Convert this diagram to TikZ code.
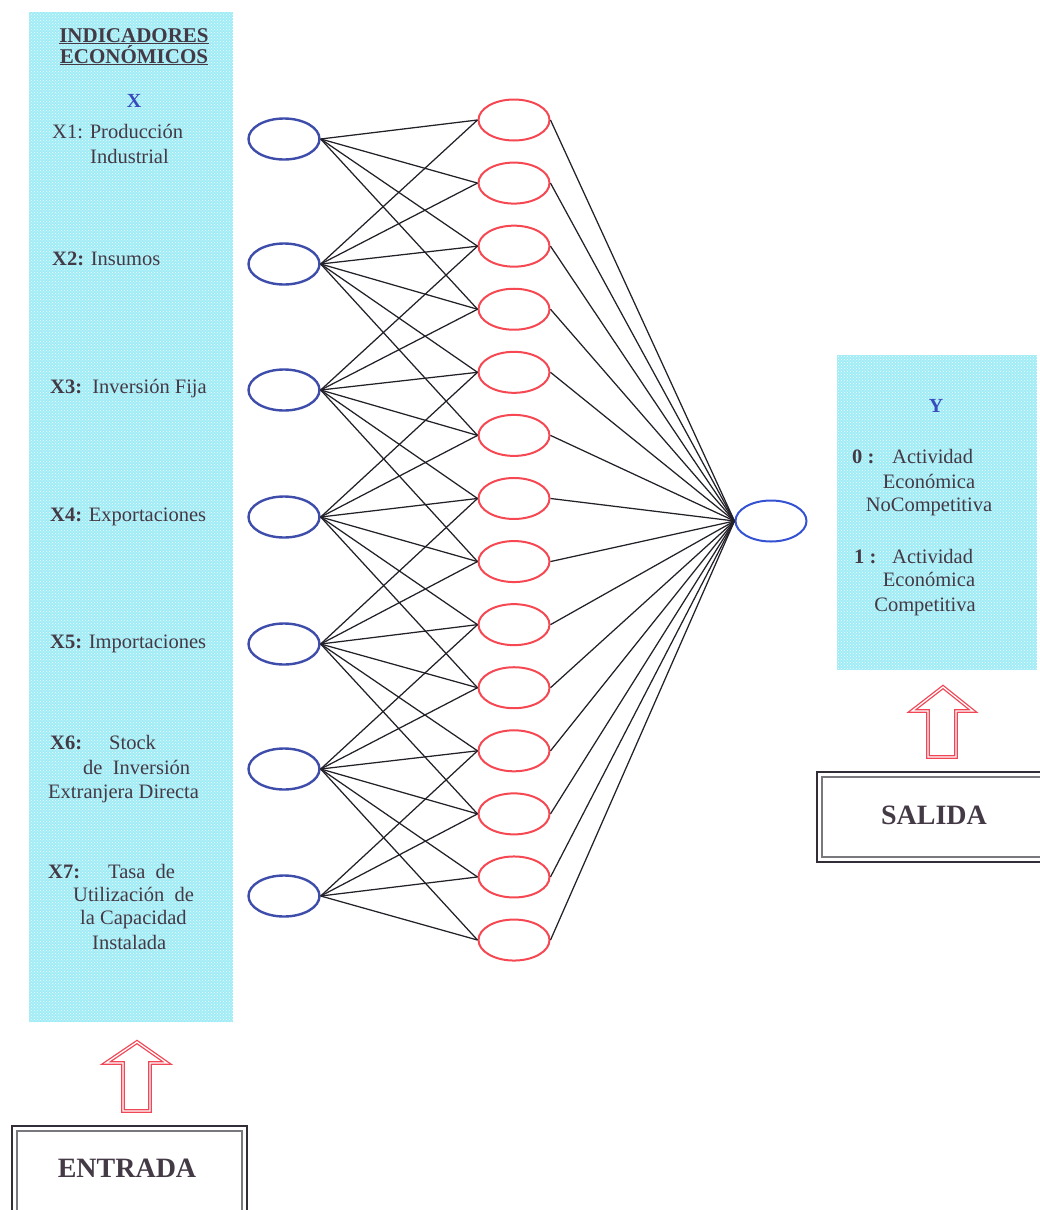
\documentclass[tikz,border=0pt]{standalone}
\usepackage{fontspec}
\setmainfont{Liberation Serif}
\usetikzlibrary{shapes.geometric,patterns}
\definecolor{panelfill}{RGB}{160,236,246}
\definecolor{textgray}{RGB}{68,58,70}
\definecolor{inblue}{RGB}{62,76,170}
\definecolor{outblue}{RGB}{52,82,210}
\definecolor{hidred}{RGB}{245,72,82}
\definecolor{arrowred}{RGB}{240,70,85}
\definecolor{wirecol}{RGB}{35,32,40}
\definecolor{boxdark}{RGB}{50,45,55}
\definecolor{boxgray}{RGB}{120,120,125}
\definecolor{lblblue}{RGB}{55,75,190}
\begin{document}
\begin{tikzpicture}[x=1pt,y=-1pt,
  panel/.style={fill=panelfill, postaction={pattern=crosshatch dots, pattern color=white!85!panelfill}},
  txt/.style={font=\fontsize{20.5}{24}\selectfont, text=textgray, inner sep=0pt, anchor=base west},
  ctxt/.style={txt, anchor=base},
  inode/.style={ellipse, draw=inblue, line width=2.4pt, minimum width=71pt, minimum height=41pt, inner sep=0pt},
  hnode/.style={ellipse, draw=hidred, line width=2pt, minimum width=71pt, minimum height=41pt, inner sep=0pt},
  onode/.style={ellipse, draw=outblue, line width=2pt, minimum width=71pt, minimum height=41pt, inner sep=0pt},
  wire/.style={draw=wirecol, line width=1.25pt},
  blockarrow/.style={draw=arrowred, double=white, double distance=1.3pt, line width=1.3pt, line join=miter},
  boxtxt/.style={font=\fontsize{28}{32}\selectfont\bfseries, text=textgray, inner sep=0pt}]
\useasboundingbox (0,0) rectangle (1040,1210);
\clip (0,0) rectangle (1040,1210);

% shaded panels
\path[panel] (29,12) rectangle (233,1022);
\path[panel] (837,355) rectangle (1037,670);

% left panel: economic indicators
\node[ctxt, font=\fontsize{21}{24}\selectfont\bfseries] (t1) at (134,42) {\underline{INDICADORES}};
\node[ctxt, font=\fontsize{21}{24}\selectfont\bfseries] (t2) at (134,63) {\underline{ECONÓMICOS}};
\node[ctxt, text=lblblue, font=\fontsize{20}{24}\selectfont\bfseries] (tx) at (134,107) {X};
\node[txt] (x1a) at (52,138) {X1: Producción};
\node[txt] (x1b) at (90,163) {Industrial};
\node[txt] (x2) at (52,265) {\textbf{X2:} Insumos};
\node[txt] (x3) at (50,393) {\textbf{X3:}\ \ Inversión Fija};
\node[txt] (x4) at (50,521) {\textbf{X4:} Exportaciones};
\node[txt] (x5) at (50,648) {\textbf{X5:} Importaciones};
\node[txt] (x6a) at (50,749) {\textbf{X6:}};
\node[txt] (x6b) at (109,749) {Stock};
\node[txt] (x6c) at (83,774) {de\ \ Inversión};
\node[txt] (x6d) at (48,798) {Extranjera Directa};
\node[txt] (x7a) at (48,878) {\textbf{X7:}};
\node[txt] (x7b) at (108,878) {Tasa\ \ de};
\node[txt] (x7c) at (73,901) {Utilización\ \ de};
\node[txt] (x7d) at (80,924) {la Capacidad};
\node[txt] (x7e) at (92,949) {Instalada};

% right panel: network output
\node[ctxt, text=lblblue, font=\fontsize{20}{24}\selectfont\bfseries] (ty) at (936,412) {Y};
\node[txt] (y0a) at (852,463) {\textbf{0 :}};
\node[txt] (y0b) at (892,463) {Actividad};
\node[ctxt] (y0c) at (929,488) {Económica};
\node[ctxt] (y0d) at (929,511) {NoCompetitiva};
\node[txt] (y1a) at (854,563) {\textbf{1 :}};
\node[txt] (y1b) at (892,563) {Actividad};
\node[ctxt] (y1c) at (929,586) {Económica};
\node[ctxt] (y1d) at (925,611) {Competitiva};

% input layer
\foreach \i/\y in {1/139,2/264,3/390,4/517,5/644,6/769,7/896}
  \node[inode] (i\i) at (284,\y) {};

% hidden layer
\foreach \j in {1,...,14}
  \node[hnode] (h\j) at (514,{120+63.08*(\j-1)}) {};

% output neuron
\node[onode] (o) at (771,521) {};

% input -> hidden links (each input feeds a band of six hidden units)
\foreach \i in {1,...,7} {
  \pgfmathtruncatemacro\lo{max(1,2*\i-3)}
  \pgfmathtruncatemacro\hi{min(14,2*\i+2)}
  \foreach \j in {\lo,...,\hi}
    \draw[wire] (i\i.east) -- (h\j.west);
}

% hidden -> output links
\foreach \j in {1,...,14}
  \draw[wire] (h\j.east) -- (o.west);

% hollow block arrows
\draw[blockarrow] (137,1042) -- (167,1063) -- (150,1063) -- (150,1111) -- (123,1111) -- (123,1063) -- (106,1063) -- cycle;
\draw[blockarrow] (943,687) -- (973,711) -- (956,711) -- (956,757) -- (928,757) -- (928,711) -- (912,711) -- cycle;

% labelled boxes with double frames
\draw[draw=boxdark, line width=2.2pt] (12,1126) rectangle (247,1220);
\draw[draw=boxgray, line width=1.2pt] (17,1131) rectangle (242,1220);
\node[boxtxt] (entrada) at (127,1168) {ENTRADA};
\draw[draw=boxdark, line width=2.2pt] (817,772) rectangle (1050,862);
\draw[draw=boxgray, line width=1.2pt] (822,777) rectangle (1050,857);
\node[boxtxt] (salida) at (934,815) {SALIDA};
\end{tikzpicture}
\end{document}
